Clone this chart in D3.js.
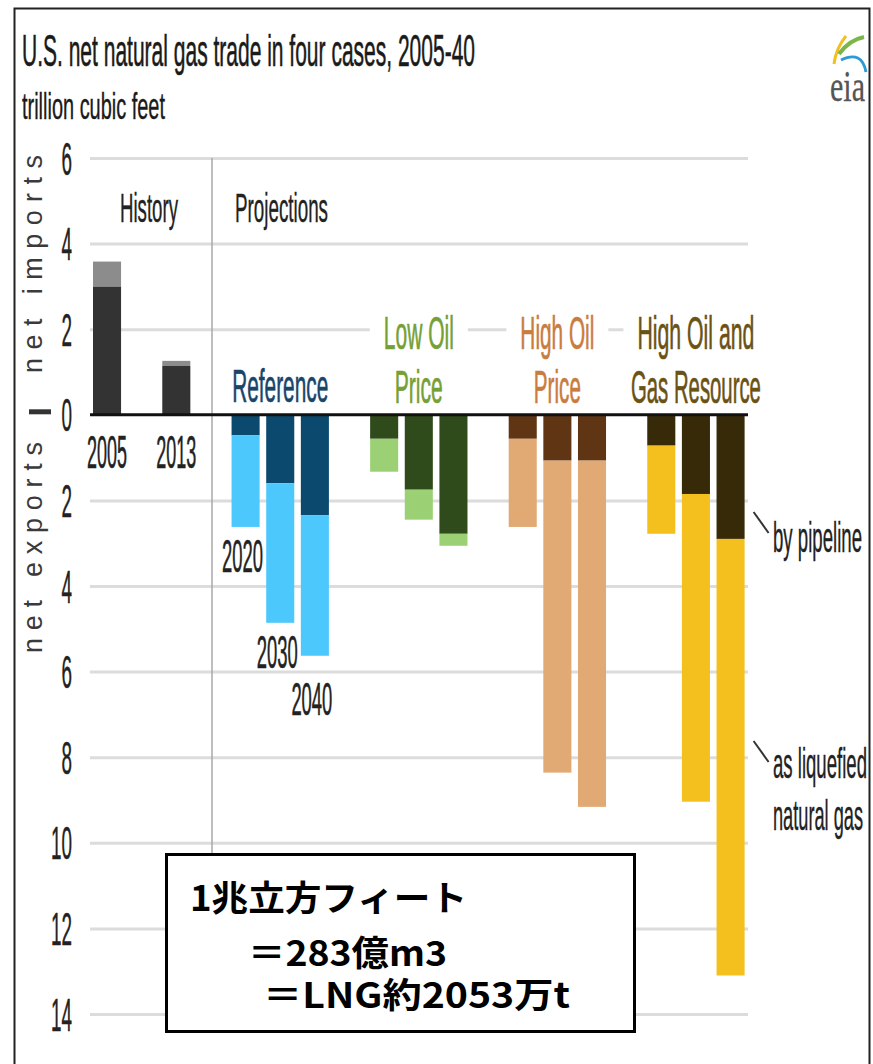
<!DOCTYPE html>
<html><head><meta charset="utf-8">
<script src="https://cdn.jsdelivr.net/npm/d3@7"></script>
<style>
html,body{margin:0;padding:0;background:#fff;}
svg{display:block;}
</style></head>
<body>
<svg id="chart" width="873" height="1064"></svg>
<script>
// ---------- data (trillion cubic feet; imports +, exports -) ----------
const historyYears = ["2005", "2013"];
const histPipeline = [3.0, 1.14];
const histLNG = [0.58, 0.12];

const cases = ["Reference", "Low Oil Price", "High Oil Price", "High Oil and Gas Resource"];
const projYears = ["2020", "2030", "2040"];
const refPipeline = [0.48, 1.6, 2.35];
const refLNG = [2.14, 3.26, 3.28];
const lowPipeline = [0.56, 1.75, 2.78];
const lowLNG = [0.77, 0.70, 0.28];
const highPipeline = [0.56, 1.07, 1.07];
const highLNG = [2.06, 7.29, 8.09];
const hogrPipeline = [0.72, 1.85, 2.90];
const hogrLNG = [2.06, 7.19, 10.2];

const yTicks = [6, 4, 2, 0, -2, -4, -6, -8, -10, -12, -14];

const caseLabelLines = [["Reference"], ["Low Oil", "Price"], ["High Oil", "Price"], ["High Oil and", "Gas Resource"]];
const pipeColors = ["#0b4a6e", "#2f4a1b", "#5f3514", "#362a08"];
const lngColors = ["#4dc8fd", "#9bd174", "#e1a973", "#f4c01e"];
const labelColors = ["#19456a", "#76a035", "#c97c3e", "#6a5214"];
const histColors = ["#333333", "#8c8c8c"];

// ---------- setup ----------
const NARROW = "'Liberation Sans Narrow','Arial Narrow','Liberation Sans',Arial,sans-serif";
const svg = d3.select("#chart");

const y = d3.scaleLinear().domain([-14, 6]).range([1014, 158]);
const x = d3.scaleBand().domain(d3.range(19)).range([93, 744.6]).paddingInner(0.19).paddingOuter(0);
const gridX0 = 90, gridX1 = 748;

function addText(parent, str, px, py, size, len, opts = {}) {
  let sx = px;
  if (opts.anchor === "middle") sx = px - len / 2;
  else if (opts.anchor === "end") sx = px - len;
  const fill = opts.fill || "#222";
  const t = parent.append("text")
    .attr("x", sx).attr("y", py)
    .attr("font-size", size)
    .attr("font-family", opts.family || NARROW)
    .attr("font-weight", opts.weight || "normal")
    .attr("fill", fill)
    .text(str);
  if (opts.stroke !== false) t.attr("stroke", fill).attr("stroke-width", opts.sw || 0.6);
  if (len) t.attr("textLength", len).attr("lengthAdjust", "spacingAndGlyphs");
  return t;
}

// outer frame
svg.append("rect").attr("x", 14.5).attr("y", 8.5).attr("width", 855).attr("height", 1080)
  .attr("fill", "none").attr("stroke", "#222").attr("stroke-width", 2);

// title
addText(svg, "U.S. net natural gas trade in four cases, 2005-40", 22, 66, 45, 453, {fill: "#1a1a1a"});
addText(svg, "trillion cubic feet", 22, 119, 37, 143, {fill: "#1a1a1a", sw: 0.4});

// eia logo
const logo = svg.append("g");
logo.append("path").attr("d", "M834,64 Q836,48 846,36").attr("fill", "none").attr("stroke", "#f2c01e").attr("stroke-width", 3);
logo.append("path").attr("d", "M839,54 Q849,40 864,37").attr("fill", "none").attr("stroke", "#7ab648").attr("stroke-width", 4);
logo.append("path").attr("d", "M841,60 Q862,50 866,72").attr("fill", "none").attr("stroke", "#2b9ad6").attr("stroke-width", 3);
addText(logo, "eia", 830, 101, 44, 35, {fill: "#555", family: "'Liberation Serif','DejaVu Serif',serif", sw: 0.3});

// gridlines
const grid = svg.append("g").attr("transform", `translate(${gridX0},0)`)
  .call(d3.axisLeft(y).tickValues(yTicks.filter(d => d !== 0)).tickSize(-(gridX1 - gridX0)).tickFormat(""));
grid.select(".domain").remove();
grid.selectAll("line").attr("stroke", "#dcdcdc").attr("stroke-width", 3);

// y axis labels
const yAxis = svg.append("g").attr("transform", "translate(72,0)")
  .call(d3.axisLeft(y).tickValues(yTicks).tickSize(0).tickPadding(0).tickFormat(d => String(Math.abs(d))));
yAxis.select(".domain").remove();
yAxis.selectAll("text")
  .attr("font-family", NARROW).attr("font-size", 46).attr("fill", "#222")
  .attr("stroke", "#222").attr("stroke-width", 0.5)
  .attr("dy", "0.35em")
  .attr("textLength", d => String(Math.abs(d)).length * 10.5)
  .attr("lengthAdjust", "spacingAndGlyphs");

// net imports / net exports
svg.append("text").attr("transform", "translate(42,373) rotate(-90)")
  .attr("font-family", "'Liberation Sans',Arial,sans-serif").attr("font-size", 27).attr("fill", "#3a3a3a")
  .attr("textLength", 218).attr("lengthAdjust", "spacing").text("net imports");
svg.append("text").attr("transform", "translate(42,653) rotate(-90)")
  .attr("font-family", "'Liberation Sans',Arial,sans-serif").attr("font-size", 27).attr("fill", "#3a3a3a")
  .attr("textLength", 211).attr("lengthAdjust", "spacing").text("net exports");
svg.append("line").attr("x1", 29).attr("x2", 51).attr("y1", y(0) - 3).attr("y2", y(0) - 3)
  .attr("stroke", "#333").attr("stroke-width", 5);

// divider
svg.append("line").attr("x1", 212).attr("x2", 212).attr("y1", y(6)).attr("y2", 856)
  .attr("stroke", "#a8a8a8").attr("stroke-width", 1.5);

// section labels
addText(svg, "History", 120, 222, 40, 58, {fill: "#222", sw: 0.4});
addText(svg, "Projections", 235, 222, 40, 93, {fill: "#222", sw: 0.4});

// ---------- bars ----------
const barsG = svg.append("g");
historyYears.forEach((yr, i) => {
  const slot = i * 2;
  const p = histPipeline[i], l = histLNG[i];
  barsG.append("rect").attr("x", x(slot)).attr("width", x.bandwidth())
    .attr("y", y(p)).attr("height", y(0) - y(p)).attr("fill", histColors[0]);
  barsG.append("rect").attr("x", x(slot)).attr("width", x.bandwidth())
    .attr("y", y(p + l)).attr("height", y(p) - y(p + l)).attr("fill", histColors[1]);
  addText(svg, yr, x(slot) + x.bandwidth() / 2, 468, 46, 40, {anchor: "middle"});
});

const pipeSets = [refPipeline, lowPipeline, highPipeline, hogrPipeline];
const lngSets = [refLNG, lowLNG, highLNG, hogrLNG];
let prevBaseline = 0;
cases.forEach((c, ci) => {
  projYears.forEach((yr, yi) => {
    const slot = 4 + ci * 4 + yi;
    const p = pipeSets[ci][yi], l = lngSets[ci][yi];
    barsG.append("rect").attr("x", x(slot)).attr("width", x.bandwidth())
      .attr("y", y(0)).attr("height", y(-p) - y(0)).attr("fill", pipeColors[ci]);
    barsG.append("rect").attr("x", x(slot)).attr("width", x.bandwidth())
      .attr("y", y(-p)).attr("height", y(-(p + l)) - y(-p)).attr("fill", lngColors[ci]);
    if (ci === 0) {
      let bl = Math.max(y(-(p + l)) + 45, prevBaseline + 47);
      prevBaseline = bl;
      addText(svg, yr, x(slot) + x.bandwidth() / 2 - 3, bl, 46, 41, {anchor: "middle"});
    }
  });
});

// zero line
svg.append("line").attr("x1", gridX0).attr("x2", gridX1).attr("y1", y(0)).attr("y2", y(0))
  .attr("stroke", "#111").attr("stroke-width", 3);

// case labels
const caseLabelLens = [[96], [70, 48], [74, 47], [117, 130]];
cases.forEach((c, ci) => {
  const cx = (x(4 + ci * 4) + x(6 + ci * 4) + x.bandwidth()) / 2;
  const lines = caseLabelLines[ci];
  const base = lines.length === 1 ? [402] : [349, 403];
  lines.forEach((ln, li) => {
    const len = caseLabelLens[ci][li];
    if (li === 0 && lines.length > 1) {
      svg.append("rect").attr("x", cx - len / 2 - 14).attr("width", len + 28)
        .attr("y", 312).attr("height", 40).attr("fill", "#fff");
    }
    addText(svg, ln, cx, base[li], 47, len, {anchor: "middle", fill: labelColors[ci], sw: 0.7});
  });
});

// right annotations
const lastSlot = 18;
const annX = x(lastSlot) + x.bandwidth();
svg.append("line").attr("x1", annX + 9).attr("y1", 512).attr("x2", annX + 24).attr("y2", 533)
  .attr("stroke", "#333").attr("stroke-width", 2);
addText(svg, "by pipeline", 773, 552, 43, 89, {fill: "#222", sw: 0.4});
svg.append("line").attr("x1", annX + 9).attr("y1", 741).attr("x2", annX + 24).attr("y2", 762)
  .attr("stroke", "#333").attr("stroke-width", 2);
addText(svg, "as liquefied", 773, 778, 43, 94, {fill: "#222", sw: 0.4});
addText(svg, "natural gas", 773, 830, 43, 90, {fill: "#222", sw: 0.4});

// conversion note box
const JP = "'Noto Sans CJK JP','Noto Sans CJK SC',sans-serif";
svg.append("rect").attr("x", 166.5).attr("y", 854.5).attr("width", 468).attr("height", 177)
  .attr("fill", "#fff").attr("stroke", "#000").attr("stroke-width", 3);
addText(svg, "1兆立方フィート", 190, 911, 35, 277, {family: JP, weight: "bold", fill: "#000", stroke: false});
addText(svg, "＝283億m3", 248, 966, 35, 199, {family: JP, weight: "bold", fill: "#000", stroke: false});
addText(svg, "＝LNG約2053万t", 263, 1008, 35, 307, {family: JP, weight: "bold", fill: "#000", stroke: false});
</script>
</body></html>
